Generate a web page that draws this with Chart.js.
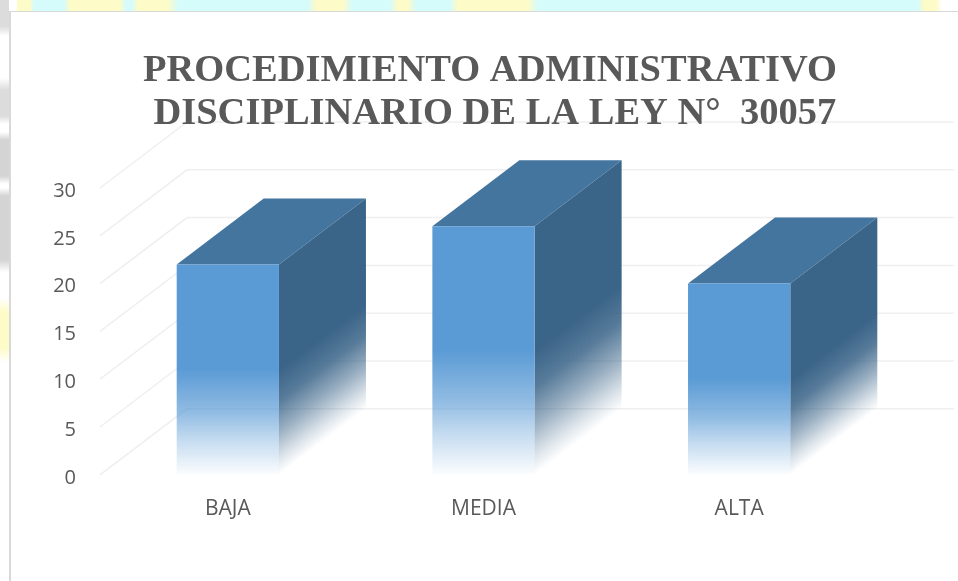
<!DOCTYPE html>
<html>
<head>
<meta charset="utf-8">
<style>
    html, body { margin: 0; padding: 0; width: 958px; height: 581px; overflow: hidden; background: #fff; }
    #strip { position: absolute; left: 0; top: 0; width: 958px; height: 12px;
        background: linear-gradient(90deg, #fff 0 16px, #fdfbc8 18px 30px, #d6fbfb 34px 64px, #fdfbc8 70px 120px, #d6fbfb 126px 132px, #fdfbc8 138px 168px, #d6fbfb 178px 308px, #fdfbc8 316px 343px, #d6fbfb 352px 390px, #fdfbc8 398px 408px, #d6fbfb 416px 450px, #fdfbc8 458px 528px, #d6fbfb 538px 660px, #d6fbfb 918px, #fdfbc8 924px 936px, #fff 942px); }
    #side { position: absolute; left: 0; top: 0; width: 9px; height: 581px;
        background: linear-gradient(180deg, #dcdcdc 0 26px, #fff 36px 78px, #dcdcdc 90px 116px, #fff 124px 132px, #d4d4d4 140px 176px, #fff 184px 188px, #d4d4d4 196px 260px, #fff 272px 298px, #fdfbc8 312px 348px, #fff 362px); }
    #frame { position: absolute; left: 9px; top: 11px; width: 949px; height: 570px; background: #fff; border-left: 2px solid #d9d9d9; border-top: 1px solid #d9d9d9; box-sizing: border-box; }
    #wrap { position: absolute; left: 22px; top: 0; width: 936px; height: 581px; }
</style>
</head>
<body>
<div id="strip"></div>
<div id="side"></div>
<div id="frame"></div>
<div id="wrap"><canvas id="chart"></canvas></div>
<script src="https://cdn.jsdelivr.net/npm/chart.js@4"></script>
<script>
const categories = ['BAJA', 'MEDIA', 'ALTA'];
const values = [22, 26, 20];
const yTicks = [0, 5, 10, 15, 20, 25, 30];
const titleLines = ['PROCEDIMIENTO ADMINISTRATIVO', ' DISCIPLINARIO DE LA LEY N\u00b0  30057'];

const DEPTH_X = 87, DEPTH_Y = 66;
const FRONT = '91,155,213', TOP_FACE = '#44759f', SIDE = '58,100,136';

// front face fades to nothing over the lower half of each bar
function frontFill(c) {
    const { chart, dataIndex } = c;
    const y = chart.scales.y;
    const solid = `rgb(${FRONT})`;
    if (!y || dataIndex === undefined) return solid;
    const y0 = y.getPixelForValue(values[dataIndex]), y1 = y.getPixelForValue(0);
    if (!isFinite(y0) || !isFinite(y1)) return solid;
    const g = chart.ctx.createLinearGradient(0, y0, 0, y1);
    g.addColorStop(0, solid);
    g.addColorStop(0.5, solid);
    g.addColorStop(0.7, `rgba(${FRONT},0.68)`);
    g.addColorStop(0.83, `rgba(${FRONT},0.37)`);
    g.addColorStop(1, `rgba(${FRONT},0.02)`);
    return g;
}

const faux3d = {
    id: 'faux3d',
    // walls go in before the title so the text sits on top of them
    beforeDraw(chart) {
        const { ctx, scales: { y }, chartArea: a } = chart;
        ctx.save();
        ctx.strokeStyle = '#efefef';
        ctx.lineWidth = 1.5;
        yTicks.forEach(v => {
            const p = y.getPixelForValue(v);
            ctx.beginPath();
            ctx.moveTo(a.left, p);
            ctx.lineTo(a.left + DEPTH_X, p - DEPTH_Y);
            ctx.lineTo(a.right + DEPTH_X, p - DEPTH_Y);
            ctx.stroke();
        });
        ctx.restore();
    },
    beforeDatasetsDraw(chart) {
        const { ctx, scales: { y } } = chart;
        ctx.save();
        chart.getDatasetMeta(0).data.forEach((bar, i) => {
            const half = bar.width / 2, r = bar.x + half, l = bar.x - half;
            const top = y.getPixelForValue(values[i]), base = y.getPixelForValue(0);
            // top face
            ctx.fillStyle = TOP_FACE;
            ctx.beginPath();
            ctx.moveTo(l, top);
            ctx.lineTo(l + DEPTH_X, top - DEPTH_Y);
            ctx.lineTo(r + DEPTH_X, top - DEPTH_Y);
            ctx.lineTo(r, top);
            ctx.closePath();
            ctx.fill();
            // side face, fade runs square to the receding edge
            const mid = (top + base) / 2;
            const n = (DEPTH_X * (base - mid)) / (DEPTH_X * DEPTH_X + DEPTH_Y * DEPTH_Y);
            const g = ctx.createLinearGradient(r, mid, r + DEPTH_Y * n, mid + DEPTH_X * n);
            g.addColorStop(0, `rgba(${SIDE},1)`);
            g.addColorStop(0.3, `rgba(${SIDE},0.85)`);
            g.addColorStop(0.6, `rgba(${SIDE},0.5)`);
            g.addColorStop(0.85, `rgba(${SIDE},0.17)`);
            g.addColorStop(1, `rgba(${SIDE},0)`);
            ctx.fillStyle = g;
            ctx.beginPath();
            ctx.moveTo(r, top);
            ctx.lineTo(r + DEPTH_X, top - DEPTH_Y);
            ctx.lineTo(r + DEPTH_X, base - DEPTH_Y);
            ctx.lineTo(r, base);
            ctx.closePath();
            ctx.fill();
        });
        ctx.restore();
    }
};

new Chart(document.getElementById('chart'), {
    type: 'bar',
    data: { labels: categories, datasets: [{ data: values, backgroundColor: frontFill, barPercentage: 0.4, categoryPercentage: 1, borderWidth: 0 }] },
    options: {
        responsive: true, maintainAspectRatio: false, animation: false,
        layout: { padding: { top: 50, bottom: 45 } },
        plugins: {
            legend: { display: false },
            tooltip: { enabled: false },
            title: {
                display: true, text: titleLines, color: '#595959',
                font: { family: 'Liberation Serif', size: 38.5, weight: 'bold', lineHeight: 1.117 },
                padding: { top: 0, bottom: 52 }
            }
        },
        scales: {
            x: {
                grid: { display: false }, border: { display: false },
                ticks: { color: '#595959', font: { family: 'Open Sans', size: 21 }, padding: 14 }
            },
            y: {
                min: 0, max: 30,
                grid: { display: false }, border: { display: false },
                afterFit: s => { s.width = 78; },
                afterBuildTicks: s => { s.ticks = yTicks.map(value => ({ value })); },
                ticks: { color: '#595959', font: { family: 'Open Sans', size: 20 }, padding: 16, labelOffset: 3 }
            },
            // empty right axis, only reserves the room the depth offset needs
            pad: {
                position: 'right', display: true,
                grid: { display: false }, border: { display: false }, ticks: { display: false },
                afterFit: s => { s.width = 91; }
            }
        }
    },
    plugins: [faux3d]
});
</script>
</body>
</html>
